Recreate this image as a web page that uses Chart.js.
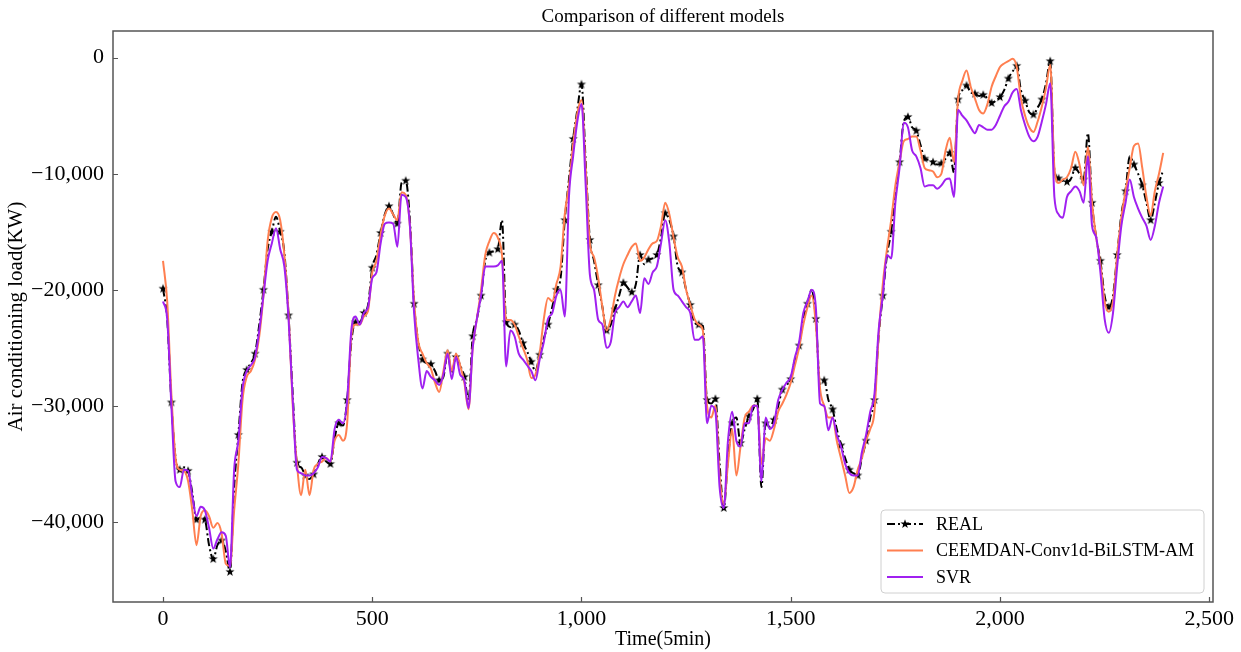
<!DOCTYPE html>
<html>
<head>
<meta charset="utf-8">
<title>Comparison of different models</title>
<script src="https://cdn.jsdelivr.net/npm/chart.js@4.4.1/dist/chart.umd.min.js"></script>
<style>
  html, body { margin: 0; padding: 0; background: #fff; }
  #wrap { width: 1241px; height: 652px; position: relative; }
</style>
</head>
<body>
<div id="wrap"><canvas id="chart"></canvas></div>
<script>
// one point every 10 samples (5 min each)
const TIME_STEP = 10;
const chartTitle = 'Comparison of different models';
const seriesNames = ['REAL', 'CEEMDAN-Conv1d-BiLSTM-AM', 'SVR'];

const realLoad = [
  -19900, -22500, -29700, -34500, -35500, -35300, -35600, -37500, -39800, -39600,
  -39800, -42000, -43200, -42000, -41600, -42500, -44300, -37000, -32500, -28000,
  -26900, -26300, -25500, -23000, -20000, -16500, -15000, -13700, -15000, -16800,
  -22200, -29000, -34900, -35300, -36000, -36300, -35900, -35000, -34400, -34800,
  -35000, -32800, -31500, -31700, -29500, -24500, -22800, -22800, -22000, -21300,
  -18100, -17000, -15100, -13500, -12800, -13500, -14300, -10800, -10600, -14000,
  -21200, -24500, -26000, -26300, -26400, -27000, -27800, -27500, -25500, -27200,
  -25800, -26500, -27500, -29500, -24000, -22500, -20500, -17500, -16800, -16700,
  -16500, -14000, -22800, -23200, -23000, -23500, -24600, -25300, -26200, -27000,
  -25600, -24200, -23000, -21500, -20000, -19000, -14000, -10500, -7000, -4500,
  -2300, -9000, -15700, -17500, -19600, -21500, -23500, -23000, -21700, -20500,
  -19400, -19800, -20200, -19500, -17000, -17800, -17400, -17300, -17000, -15500,
  -13400, -14000, -15400, -18000, -18500, -20000, -21300, -22800, -23000, -23100,
  -29500, -29800, -29400, -35000, -38800, -34500, -31500, -31000, -33200, -32000,
  -30900, -30300, -29400, -37000, -31500, -31800, -31200, -30000, -28600, -28200,
  -27700, -26000, -24800, -22500, -21200, -20000, -22500, -28100, -27800, -29500,
  -30300, -32000, -33400, -34500, -35500, -35800, -36000, -34500, -33000, -31000,
  -29500, -24000, -20500, -17000, -15000, -11700, -9000, -5500, -5100, -6000,
  -6300, -7500, -8700, -8800, -9000, -9200, -9100, -8700, -8200, -9900,
  -3600, -2800, -2400, -3000, -3100, -3300, -3200, -3500, -3900, -3700,
  -3400, -2800, -1800, -1200, -700, -2800, -3700, -4700, -4900, -4300,
  -3600, -2200, -300, -9700, -10400, -10600, -10700, -10400, -9500, -10000,
  -10500, -6500, -12500, -15500, -17500, -20500, -21500, -20500, -17000, -13500,
  -11500, -8500, -9200, -10000, -11000, -12500, -14000, -12500, -10800, -9700
];

const ceemdanLoad = [
  -17500, -21000, -29000, -34500, -35500, -35600, -36500, -39000, -42000, -39500,
  -39000, -39500, -40500, -40100, -41000, -43600, -43800, -39000, -35000, -29500,
  -27500, -27000, -26000, -24000, -20500, -15800, -13800, -13300, -14000, -17000,
  -22000, -30000, -35000, -37700, -35500, -37700, -35500, -35000, -34800, -34500,
  -34800, -33000, -32500, -33000, -31500, -24000, -23000, -23000, -22300, -21800,
  -18500, -17500, -15200, -13600, -13000, -13500, -14000, -11600, -11800, -14500,
  -21000, -24500, -25500, -26300, -26800, -28000, -28800, -27000, -25200, -27000,
  -25500, -26500, -28000, -30300, -25000, -22500, -20000, -17000, -15800, -15100,
  -15500, -17000, -22600, -22600, -23000, -24000, -25000, -26000, -27600, -27300,
  -25500, -22500, -20700, -21000, -19500, -18000, -13500, -11000, -7500, -4800,
  -3650, -9500, -16000, -17200, -19000, -21500, -23500, -22500, -20500, -19000,
  -17800, -17000, -16300, -16000, -17500, -17200, -16500, -16000, -15800, -14500,
  -12500, -13500, -15500, -17200, -18000, -20000, -21300, -22500, -23000, -23500,
  -30000, -31000, -30000, -36000, -38500, -35000, -32000, -36000, -33500, -31000,
  -30500, -30000, -30000, -35000, -32800, -33000, -32000, -30500, -29800, -29000,
  -28000, -26500, -25000, -23000, -21500, -20500, -23000, -28500, -30000, -31000,
  -31000, -33000, -34500, -36000, -37500, -37000, -35500, -34500, -33000, -32000,
  -30500, -24000, -19500, -16500, -14000, -11000, -9000, -7200, -7000, -6800,
  -6800, -8000, -9500, -9700, -9800, -10300, -10000, -8000, -6900, -9000,
  -3500, -2000, -1100, -2500, -3500, -4500, -4800, -4000, -2500, -1600,
  -800, -500, -300, -100, -800, -3500, -5000, -6000, -6400, -5500,
  -4200, -2600, -600, -9500, -10800, -10500, -10300, -9500, -8100, -9200,
  -11000, -7700, -12500, -15500, -17800, -21000, -21900, -21000, -17000, -13800,
  -11500, -9500, -7600, -7400, -9500, -12000, -13600, -11500, -10000, -8200
];

const svrLoad = [
  -21000, -22500, -30000, -36500, -37000, -35500, -35600, -37800, -39500, -38700,
  -39000, -40500, -42300, -41500, -40900, -41200, -43900, -35500, -33000, -28500,
  -27000, -26500, -25800, -23500, -20500, -17500, -16000, -14700, -16500, -18000,
  -22500, -29500, -35500, -35800, -36000, -36000, -35800, -35300, -34400, -34500,
  -34800, -32000, -31200, -31500, -29500, -23500, -22300, -23000, -22000, -21500,
  -19000, -18500, -16000, -14300, -14200, -14300, -16300, -11800, -12000, -14500,
  -22000, -26000, -28500, -27000, -27500, -27800, -28200, -27300, -25500, -27700,
  -25800, -27300, -27800, -30200, -25000, -22500, -20500, -18000, -18000, -18000,
  -17900, -17500, -26600, -23500, -24000, -25500, -26000, -26500, -27000, -27800,
  -26000, -24500, -22500, -22000, -20500, -20000, -22300, -12000, -8500, -5500,
  -4000, -11000, -18700, -20000, -22600, -23000, -25000, -24500, -22000, -21500,
  -21000, -21500, -21000, -20500, -22000, -19000, -19500, -18500, -18000, -16000,
  -14000, -16000, -20000, -20500, -21000, -21500, -22000, -24300, -24300, -24000,
  -31500, -30000, -30500, -37000, -38800, -33000, -30500, -33000, -33500, -31500,
  -31500, -30000, -30000, -36500, -31000, -32000, -31500, -29500, -28600, -28000,
  -27500, -25800, -24500, -22000, -21000, -20000, -21500, -29800, -30000, -32100,
  -31000, -32500, -33500, -35000, -35800, -36000, -36000, -34000, -32500, -30500,
  -29000, -23500, -20500, -17000, -17300, -12500, -9500, -5600, -6000, -8000,
  -8500, -9500, -11100, -11000, -11000, -11300, -11000, -10500, -10400, -12000,
  -4500, -5000, -5400, -6000, -6500, -5800, -6000, -6200, -6200, -5800,
  -5000, -4200, -3800, -3000, -2700, -4500, -5800, -6800, -7200, -6800,
  -5500, -4000, -2200, -12000, -13500, -13800, -12000, -11500, -11100, -11500,
  -12500, -8500, -14500, -15500, -18500, -22500, -23700, -22000, -18000, -14500,
  -12500, -10500, -12000, -13000, -13800, -14500, -15700, -14500, -12500, -11100
];

const xTickValues = [0, 500, 1000, 1500, 2000, 2500];
const yTickValues = [-40000, -30000, -20000, -10000, 0];

const FONT = "'Liberation Serif', 'DejaVu Serif', serif";

function toPoints(values) {
  return values.map((v, i) => ({ x: i * TIME_STEP, y: v }));
}

function fmt(v) {
  return v.toLocaleString('en-US').replace('-', '\u2212');
}

// filled five-pointed star like matplotlib's '*'
function makeStar(r) {
  const c = document.createElement('canvas');
  const s = Math.ceil(r * 2 + 2);
  c.width = s; c.height = s;
  const g = c.getContext('2d');
  g.translate(s / 2, s / 2);
  g.beginPath();
  for (let i = 0; i < 10; i++) {
    const rr = i % 2 === 0 ? r : r * 0.4;
    const a = -Math.PI / 2 + i * Math.PI / 5;
    g.lineTo(rr * Math.cos(a), rr * Math.sin(a));
  }
  g.closePath();
  g.fillStyle = '#000';
  g.fill();
  return c;
}
const starImg = makeStar(4.8);

const frame = {
  id: 'frame',
  afterDraw(chart) {
    const ctx = chart.ctx;
    const a = chart.chartArea;
    const xs = chart.scales.x, ys = chart.scales.y;
    ctx.save();

    // title centred over the plot area
    ctx.fillStyle = '#000';
    ctx.font = '19px ' + FONT;
    ctx.textAlign = 'center';
    ctx.textBaseline = 'middle';
    ctx.fillText(chartTitle, (a.left + a.right) / 2, 17);

    ctx.strokeStyle = '#555';
    ctx.lineWidth = 1.5;
    ctx.strokeRect(a.left, a.top, a.right - a.left, a.bottom - a.top);
    // inward ticks
    ctx.lineWidth = 1.2;
    ctx.beginPath();
    xTickValues.forEach(v => {
      const px = Math.round(xs.getPixelForValue(v)) + 0.5;
      ctx.moveTo(px, a.bottom); ctx.lineTo(px, a.bottom - 5);
    });
    yTickValues.forEach(v => {
      const py = Math.round(ys.getPixelForValue(v)) + 0.5;
      ctx.moveTo(a.left, py); ctx.lineTo(a.left + 5, py);
    });
    ctx.stroke();

    // legend inside lower right
    const bx = 881, by = 510, bw = 323, bh = 83;
    ctx.beginPath();
    ctx.roundRect(bx, by, bw, bh, 4);
    ctx.fillStyle = 'rgba(255,255,255,0.8)';
    ctx.fill();
    ctx.strokeStyle = '#d0d0d0';
    ctx.lineWidth = 1;
    ctx.stroke();
    ctx.font = '18px ' + FONT;
    ctx.textAlign = 'left';
    ctx.textBaseline = 'middle';
    chart.data.datasets.forEach((ds, i) => {
      const y = 524 + i * 26.5;
      ctx.save();
      ctx.strokeStyle = ds.borderColor;
      ctx.lineWidth = ds.borderWidth;
      ctx.setLineDash(ds.borderDash || []);
      ctx.beginPath();
      ctx.moveTo(887, y); ctx.lineTo(923, y);
      ctx.stroke();
      ctx.restore();
      if (i === 0) ctx.drawImage(starImg, 905 - starImg.width / 2, y - starImg.height / 2);
      ctx.fillStyle = '#000';
      ctx.fillText(ds.label, 936, y + 1);
    });
    ctx.restore();
  }
};

new Chart(document.getElementById('chart'), {
  type: 'line',
  data: {
    datasets: [
      {
        label: seriesNames[0],
        data: toPoints(realLoad),
        borderColor: '#000',
        borderWidth: 2,
        borderDash: [8, 3, 2, 3],
        pointStyle: starImg,
        pointRadius: ctx => (ctx.dataIndex % 2 === 0 ? 4 : 0),
        cubicInterpolationMode: 'monotone',
        order: 3
      },
      {
        label: seriesNames[1],
        data: toPoints(ceemdanLoad),
        borderColor: '#ff7f50',
        borderWidth: 2,
        pointRadius: 0,
        cubicInterpolationMode: 'monotone',
        order: 2
      },
      {
        label: seriesNames[2],
        data: toPoints(svrLoad),
        borderColor: '#a020f0',
        borderWidth: 2,
        pointRadius: 0,
        cubicInterpolationMode: 'monotone',
        order: 1
      }
    ]
  },
  options: {
    responsive: true,
    maintainAspectRatio: false,
    animation: false,
    layout: { padding: { left: 0, right: 28, top: 31, bottom: 0 } },
    plugins: {
      legend: { display: false },
      tooltip: { enabled: false },
      title: { display: false }
    },
    scales: {
      x: {
        type: 'linear',
        min: -119.5,
        max: 2509,
        afterBuildTicks: s => { s.ticks = xTickValues.map(v => ({ value: v })); },
        afterFit: s => { s.height = 50; },
        grid: { display: false, drawTicks: false },
        border: { display: false },
        ticks: { color: '#000', padding: 4, font: { family: FONT, size: 22 }, callback: v => fmt(v) },
        title: {
          display: true,
          text: 'Time(5min)',
          color: '#000',
          font: { family: FONT, size: 20 },
          padding: { top: 0, bottom: 0 }
        }
      },
      y: {
        type: 'linear',
        min: -46900,
        max: 2300,
        afterBuildTicks: s => { s.ticks = yTickValues.map(v => ({ value: v })); },
        afterFit: s => { s.width = 113; },
        grid: { display: false, drawTicks: false },
        border: { display: false },
        ticks: { color: '#000', padding: 9, font: { family: FONT, size: 22 }, callback: v => fmt(v) },
        title: {
          display: true,
          text: 'Air conditioning load(KW)',
          color: '#000',
          font: { family: FONT, size: 21 },
          padding: { top: 4, bottom: 0 }
        }
      }
    }
  },
  plugins: [frame]
});
</script>
</body>
</html>
